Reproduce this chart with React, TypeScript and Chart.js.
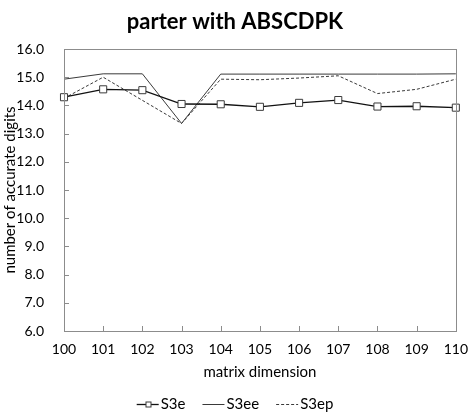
import React, { useEffect, useRef } from "react";
import { Chart, registerables } from "chart.js";

Chart.register(...registerables);

const dimensions = ["100", "101", "102", "103", "104", "105", "106", "107", "108", "109", "110"];
const s3e = [14.29, 14.57, 14.54, 14.05, 14.04, 13.95, 14.09, 14.19, 13.96, 13.97, 13.92];
const s3ee = [14.93, 15.12, 15.12, 13.36, 15.11, 15.11, 15.11, 15.11, 15.11, 15.11, 15.12];
const s3ep = [14.25, 15.0, 14.18, 13.36, 14.93, 14.91, 14.97, 15.05, 14.42, 14.57, 14.93];

const titleText = "parter with ABSCDPK";
const xTitle = "matrix dimension";
const yTitle = "number of accurate digits";
const FONT = "Lato, 'Open Sans', sans-serif";
const AXIS_GRAY = "#8c8c8c";

// Title, frame around the plot, inward tick marks and the line-sample legend
const framePlugin = {
  id: "frame",
  afterDraw(chart: any) {
    const { ctx, chartArea } = chart;
    const { left, right, top, bottom } = chartArea;
    ctx.save();

    ctx.fillStyle = "#000";
    ctx.font = `bold 22px ${FONT}`;
    ctx.textAlign = "center";
    ctx.textBaseline = "middle";
    ctx.fillText(titleText, chart.width / 2, 22);

    ctx.strokeStyle = AXIS_GRAY;
    ctx.lineWidth = 1;
    ctx.strokeRect(Math.round(left) + 0.5, Math.round(top) + 0.5, Math.round(right - left), Math.round(bottom - top));

    const xs = chart.scales.x;
    const ys = chart.scales.y;
    ctx.beginPath();
    for (let i = 0; i < xs.ticks.length; i++) {
      const px = Math.round(xs.getPixelForTick(i)) + 0.5;
      ctx.moveTo(px, Math.round(bottom));
      ctx.lineTo(px, Math.round(bottom) - 5);
    }
    for (let i = 0; i < ys.ticks.length; i++) {
      const py = Math.round(ys.getPixelForTick(i)) + 0.5;
      ctx.moveTo(Math.round(left), py);
      ctx.lineTo(Math.round(left) + 5, py);
    }
    ctx.stroke();

    // legend
    const sets = chart.data.datasets;
    ctx.font = `15px ${FONT}`;
    ctx.textAlign = "left";
    ctx.textBaseline = "middle";
    const sample = 22;
    const gapText = 2;
    const gapItem = 17;
    const widths = sets.map((d: any) => sample + gapText + ctx.measureText(d.label).width);
    const total = widths.reduce((a: number, b: number) => a + b, 0) + gapItem * (sets.length - 1);
    let x = chart.width / 2 - total / 2;
    const y = 404.5;
    sets.forEach((d: any, i: number) => {
      ctx.save();
      ctx.strokeStyle = d.borderColor;
      ctx.lineWidth = d.borderWidth;
      ctx.setLineDash(d.borderDash || []);
      ctx.beginPath();
      ctx.moveTo(x, y);
      ctx.lineTo(x + sample, y);
      ctx.stroke();
      if (d.pointRadius > 0) {
        ctx.setLineDash([]);
        ctx.fillStyle = d.pointBackgroundColor;
        ctx.strokeStyle = d.pointBorderColor;
        ctx.lineWidth = 1;
        const s = 2.5;
        const cx = Math.round(x + sample / 2) + 0.5;
        ctx.fillRect(cx - s, y - s, 2 * s, 2 * s);
        ctx.strokeRect(cx - s, y - s, 2 * s, 2 * s);
      }
      ctx.restore();
      ctx.fillStyle = "#000";
      ctx.fillText(d.label, x + sample + gapText, y);
      x += widths[i] + gapItem;
    });
    ctx.restore();
  },
};

export default function App() {
  const ref = useRef<HTMLCanvasElement>(null);

  useEffect(() => {
    const chart = new Chart(ref.current as HTMLCanvasElement, {
      type: "line",
      data: {
        labels: dimensions,
        datasets: [
          {
            label: "S3e",
            data: s3e,
            borderColor: "#111111",
            borderWidth: 1.3,
            pointStyle: "rect",
            pointRadius: 5,
            pointBackgroundColor: "#ffffff",
            pointBorderColor: "#3a3a3a",
            pointBorderWidth: 1,
            tension: 0,
            order: 0,
          },
          {
            label: "S3ee",
            data: s3ee,
            borderColor: "#3a3a3a",
            borderWidth: 1,
            pointRadius: 0,
            tension: 0,
            order: 1,
          },
          {
            label: "S3ep",
            data: s3ep,
            borderColor: "#3a3a3a",
            borderWidth: 1,
            borderDash: [3, 2],
            pointRadius: 0,
            tension: 0,
            order: 2,
          },
        ],
      },
      options: {
        responsive: false,
        animation: false,
        layout: { padding: { left: 0, right: 12, top: 49, bottom: 34 } },
        plugins: {
          legend: { display: false },
          tooltip: { enabled: false },
          title: { display: false },
        },
        scales: {
          x: {
            type: "category",
            offset: false,
            grid: { display: false },
            border: { display: false },
            ticks: {
              color: "#000",
              font: { family: FONT, size: 14 },
              padding: 2,
              maxRotation: 0,
              autoSkip: false,
            },
            title: {
              display: true,
              text: xTitle,
              color: "#000",
              font: { family: FONT, size: 15 },
              padding: { top: 2, bottom: 0 },
            },
            afterFit(s: any) {
              s.height = 50;
            },
          },
          y: {
            min: 6,
            max: 16,
            grid: { display: false },
            border: { display: false },
            ticks: {
              stepSize: 1,
              color: "#000",
              font: { family: FONT, size: 14 },
              padding: 12,
              callback: (v: any) => Number(v).toFixed(1),
            },
            title: {
              display: true,
              text: yTitle,
              color: "#000",
              font: { family: FONT, size: 15 },
              padding: { top: 1, bottom: 0 },
            },
            afterFit(s: any) {
              s.width = 64;
            },
          },
        },
      },
      plugins: [framePlugin],
    } as any);
    return () => chart.destroy();
  }, []);

  return (
    <div style={{ position: "absolute", left: 0, top: 0, width: 470, height: 415, background: "#fff" }}>
      <canvas ref={ref} width={470} height={415} />
    </div>
  );
}
